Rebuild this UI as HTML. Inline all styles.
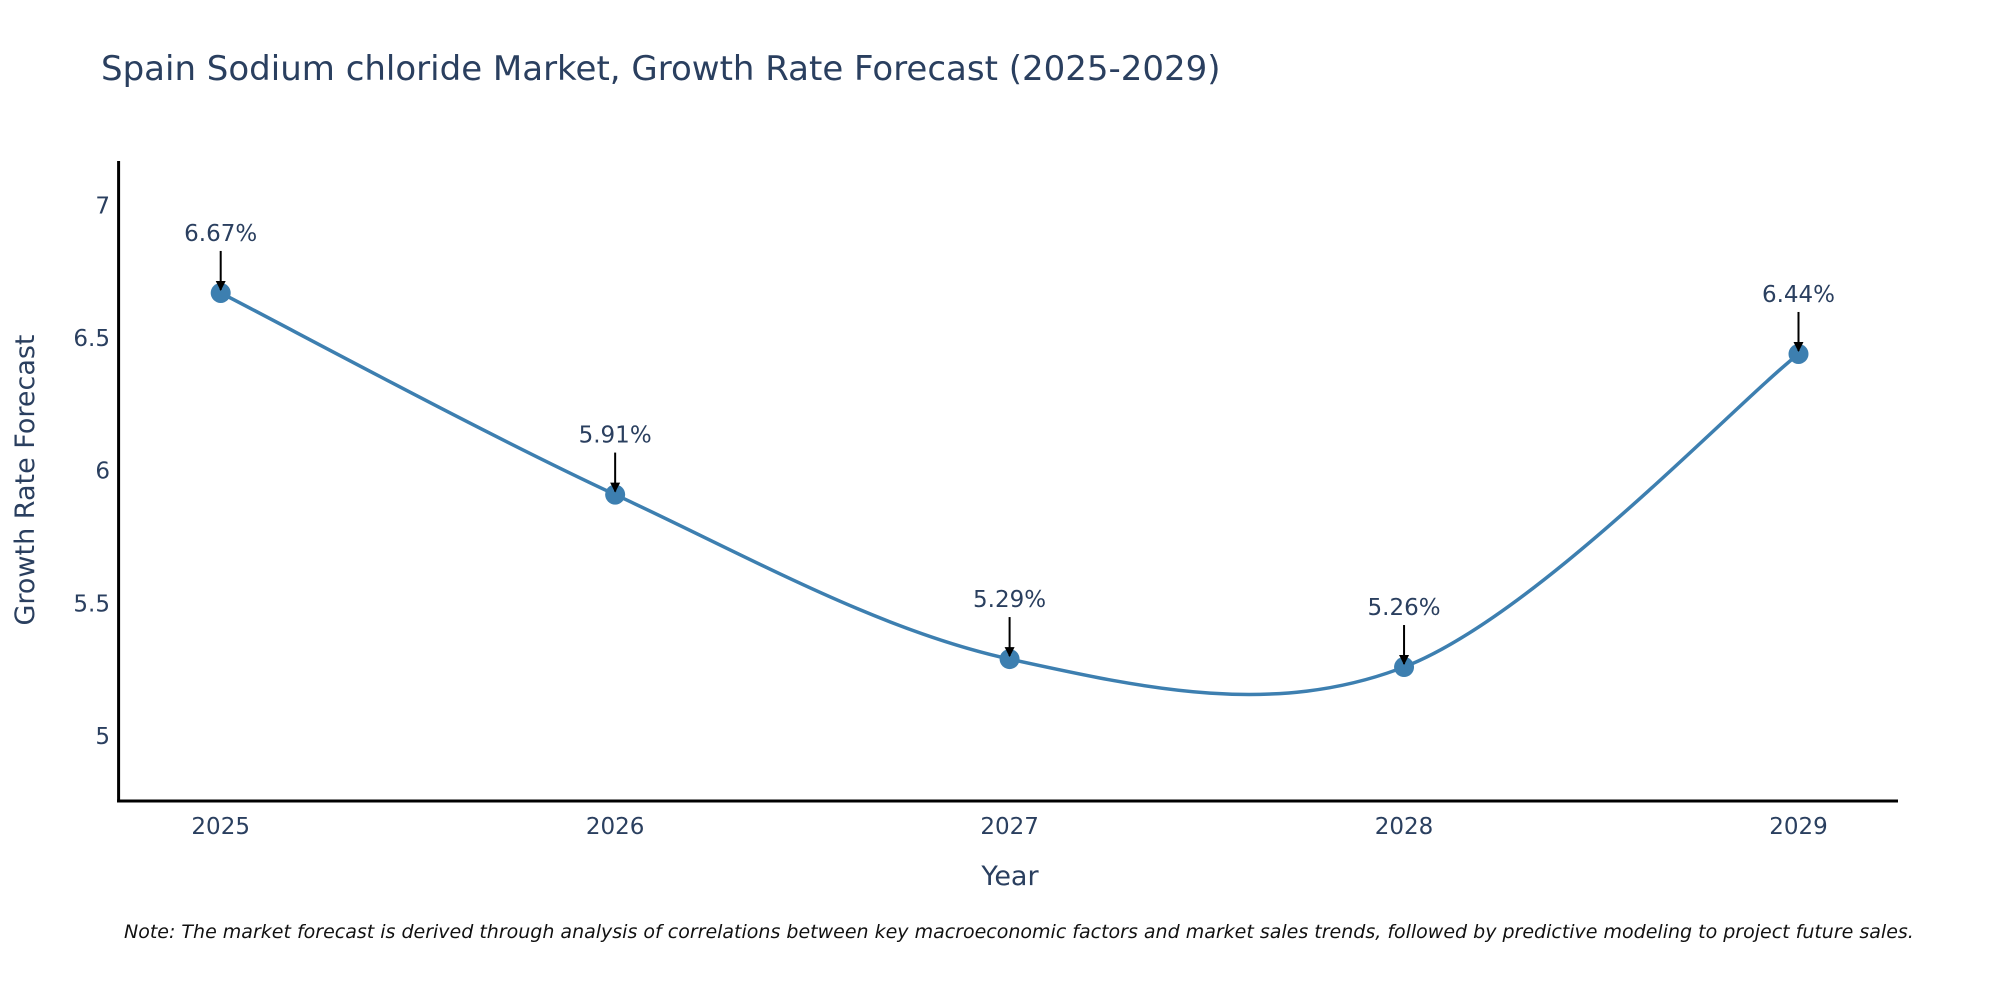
<!DOCTYPE html>
<html><head><meta charset="utf-8"><style>
body{margin:0;background:#fff;}
svg{display:block;font-family:"DejaVu Sans","Liberation Sans",sans-serif;}
</style></head><body>
<svg id="chart" width="2000" height="1000" viewBox="0 0 2000 1000">
<defs><marker id="ah" viewBox="0 0 10 10" refX="9" refY="5" markerWidth="5" markerHeight="6" orient="auto"><path d="M0,0L10,5L0,10z" fill="#000"/></marker></defs>
<text x="101" y="80" font-size="34" fill="#2a3f5f">Spain Sodium chloride Market, Growth Rate Forecast (2025-2029)</text>
<g id="plot"></g>
<text x="1010" y="885" font-size="27" fill="#2a3f5f" text-anchor="middle">Year</text>
<text transform="translate(34,480) rotate(-90)" font-size="27" fill="#2a3f5f" text-anchor="middle">Growth Rate Forecast</text>
<text x="124" y="938" font-size="19" font-style="italic" fill="#111">Note: The market forecast is derived through analysis of correlations between key macroeconomic factors and market sales trends, followed by predictive modeling to project future sales.</text>
</svg>
<script>
const years=[2025,2026,2027,2028,2029];
const values=[6.67,5.91,5.29,5.26,6.44];
const labels=["6.67%","5.91%","5.29%","5.26%","6.44%"];
const yTicks=[5,5.5,6,6.5,7];
const yTickLabels=["5","5.5","6","6.5","7"];
const NS="http://www.w3.org/2000/svg";
const g=document.getElementById('plot');
const X0=118.6,X1=1898,Y0=801,YT=161;
function xs(v){return 220.7+(v-2025)*394.45;}
function ys(v){return 736-(v-5)*265.3;}
function mk(t,a,p){const e=document.createElementNS(NS,t);for(const k in a)e.setAttribute(k,a[k]);(p||g).appendChild(e);return e;}
yTicks.forEach((t,i)=>{const e=mk('text',{x:110,y:ys(t)+8,'font-size':23,fill:'#2a3f5f','text-anchor':'end'});e.textContent=yTickLabels[i];

});
years.forEach(y=>{const e=mk('text',{x:xs(y),y:834,'font-size':23,fill:'#2a3f5f','text-anchor':'middle'});e.textContent=y;

});
const ya=mk('line',{x1:X0,y1:YT,x2:X0,y2:Y0+1.5,stroke:'#000','stroke-width':3});


const xa=mk('line',{x1:X0-1.5,y1:Y0,x2:X1,y2:Y0,stroke:'#000','stroke-width':3});


const pts=years.map((y,i)=>[xs(y),ys(values[i])]);
let d='M'+pts[0][0]+','+pts[0][1];
const s=1/6;
for(let i=0;i<pts.length-1;i++){const p0=pts[Math.max(0,i-1)],p1=pts[i],p2=pts[i+1],p3=pts[Math.min(pts.length-1,i+2)];
d+=' C'+(p1[0]+(p2[0]-p0[0])*s)+','+(p1[1]+(p2[1]-p0[1])*s)+' '+(p2[0]-(p3[0]-p1[0])*s)+','+(p2[1]-(p3[1]-p1[1])*s)+' '+p2[0]+','+p2[1];}
const ln=mk('path',{d:d,fill:'none',stroke:'#3d7fb0','stroke-width':3.5});


pts.forEach((p,i)=>{const c=mk('circle',{cx:p[0],cy:p[1],r:10,fill:'#3d7fb0'});


const a=mk('line',{x1:p[0],y1:p[1]-42,x2:p[0],y2:p[1]-3,stroke:'#000','stroke-width':2,'marker-end':'url(#ah)'});


const t=mk('text',{x:p[0],y:p[1]-52,'font-size':23,fill:'#2a3f5f','text-anchor':'middle'});t.textContent=labels[i];

});
</script>
</body></html>
